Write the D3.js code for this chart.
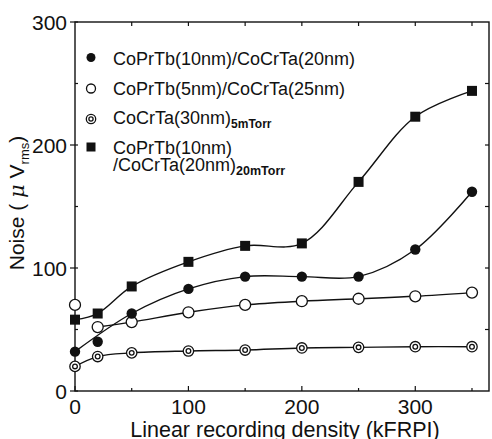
<!DOCTYPE html>
<html>
<head>
<meta charset="utf-8">
<script src="https://cdn.jsdelivr.net/npm/d3@7"></script>
<style>
  body { margin: 0; background: #fff; }
  text { font-family: "Liberation Sans", Arial, sans-serif; fill: #111; }
</style>
</head>
<body>
<div id="chart"></div>
<script>
// data
var density = [0, 20, 50, 100, 150, 200, 250, 300, 350];
var noiseThick = [32, 40, 63, 83, 93, 93, 93, 115, 162];      // CoPrTb(10nm)/CoCrTa(20nm)
var noiseThin = [70, 52, 56, 64, 70, 73, 75, 77, 80];         // CoPrTb(5nm)/CoCrTa(25nm)
var noiseSingle = [20, 28, 31, 32.5, 33.3, 35, 35.5, 36, 36]; // CoCrTa(30nm) 5mTorr
var noiseHigh = [58, 63, 85, 105, 118, 120, 170, 223, 244];   // CoPrTb/CoCrTa 20mTorr
// points the fitted curve does not go through
var offCurveThick = [20];
var offCurveThin = [0];

var xMajor = [0, 100, 200, 300];
var xMinor = [50, 150, 250, 350];
var yMajor = [0, 100, 200, 300];
var yMinor = [50, 150, 250];

var width = 492, height = 439;
var pLeft = 75, pRight = 489, pTop = 22, pBottom = 391;

var svg = d3.select("#chart").append("svg")
  .attr("width", width)
  .attr("height", height);

var x = d3.scaleLinear().domain([0, 365]).range([pLeft, pRight]);
var y = d3.scaleLinear().domain([0, 300]).range([pBottom, pTop]);

// frame
svg.append("rect")
  .attr("x", pLeft).attr("y", pTop)
  .attr("width", pRight - pLeft).attr("height", pBottom - pTop)
  .attr("fill", "none").attr("stroke", "#111").attr("stroke-width", 1.4);

// ticks
var tickG = svg.append("g").attr("stroke", "#111").attr("stroke-width", 1.2);
xMajor.concat(xMinor).forEach(function(v) {
  var len = xMajor.indexOf(v) >= 0 ? 5 : 3;
  tickG.append("line").attr("x1", x(v)).attr("x2", x(v)).attr("y1", pBottom).attr("y2", pBottom - len);
  if (v > 0) tickG.append("line").attr("x1", x(v)).attr("x2", x(v)).attr("y1", pTop).attr("y2", pTop + 4);
});
yMajor.concat(yMinor).forEach(function(v) {
  var major = yMajor.indexOf(v) >= 0;
  if (major) tickG.append("line").attr("x1", pLeft - 5).attr("x2", pLeft + 3).attr("y1", y(v)).attr("y2", y(v));
  else tickG.append("line").attr("x1", pLeft).attr("x2", pLeft + 3).attr("y1", y(v)).attr("y2", y(v));
  if (v > 0 && v < 300) tickG.append("line").attr("x1", pRight).attr("x2", pRight - 4).attr("y1", y(v)).attr("y2", y(v));
});

// tick labels
svg.selectAll(".xl").data(xMajor).enter().append("text")
  .attr("x", function(d) { return x(d); })
  .attr("y", 414)
  .attr("text-anchor", "middle")
  .style("font-size", "21px")
  .text(function(d) { return d; });

svg.selectAll(".yl").data(yMajor).enter().append("text")
  .attr("x", 67)
  .attr("y", function(d) { return y(d); })
  .attr("dy", "0.36em")
  .attr("text-anchor", "end")
  .style("font-size", "21px")
  .text(function(d) { return d; });

// axis titles
svg.append("text")
  .attr("x", 285).attr("y", 437)
  .attr("text-anchor", "middle")
  .style("font-size", "21.5px")
  .text("Linear recording density (kFRPI)");

var yt = svg.append("text")
  .attr("transform", "translate(24,203)rotate(-90)")
  .attr("text-anchor", "middle")
  .style("font-size", "21px");
yt.append("tspan").text("Noise ( ");
yt.append("tspan").style("font-family", "'DejaVu Serif', serif").style("font-style", "italic").text("\u03bc");
yt.append("tspan").text(" V");
yt.append("tspan").attr("dy", 5).style("font-size", "13px").text("rms");
yt.append("tspan").attr("dy", -5).text(")");

// curves
var line = d3.line()
  .x(function(d) { return x(d[0]); })
  .y(function(d) { return y(d[1]); })
  .curve(d3.curveCatmullRom.alpha(0.5));

function pts(vals, skip) {
  return density.map(function(d, i) { return [d, vals[i]]; })
    .filter(function(p) { return !skip || skip.indexOf(p[0]) < 0; });
}

[[noiseThick, offCurveThick], [noiseThin, offCurveThin], [noiseSingle, null], [noiseHigh, null]]
  .forEach(function(s) {
    svg.append("path")
      .attr("d", line(pts(s[0], s[1])))
      .attr("fill", "none")
      .attr("stroke", "#111")
      .attr("stroke-width", 1.4);
  });

// markers
function filledCircle(g, cx, cy, r) {
  g.append("circle").attr("cx", cx).attr("cy", cy).attr("r", r).attr("fill", "#111");
}
function openCircle(g, cx, cy, r) {
  g.append("circle").attr("cx", cx).attr("cy", cy).attr("r", r)
    .attr("fill", "#fff").attr("stroke", "#111").attr("stroke-width", 1.3);
}
function doubleCircle(g, cx, cy, r) {
  openCircle(g, cx, cy, r);
  g.append("circle").attr("cx", cx).attr("cy", cy).attr("r", r * 0.45)
    .attr("fill", "#fff").attr("stroke", "#111").attr("stroke-width", 1.3);
}
function square(g, cx, cy, s) {
  g.append("rect").attr("x", cx - s / 2).attr("y", cy - s / 2)
    .attr("width", s).attr("height", s).attr("fill", "#111");
}

var marks = svg.append("g");
density.forEach(function(d, i) {
  doubleCircle(marks, x(d), y(noiseSingle[i]), 5.2);
  openCircle(marks, x(d), y(noiseThin[i]), 5.5);
  filledCircle(marks, x(d), y(noiseThick[i]), 5.2);
  square(marks, x(d), y(noiseHigh[i]), 10);
});

// legend
var lg = svg.append("g");
var lx = 91, tx = 113;
filledCircle(lg, lx, 57.5, 4.5);
openCircle(lg, lx, 88.5, 4.5);
doubleCircle(lg, lx, 119, 4.7);
square(lg, lx, 147, 9);

lg.append("text").attr("x", tx).attr("y", 65).style("font-size", "18px")
  .text("CoPrTb(10nm)/CoCrTa(20nm)");
lg.append("text").attr("x", tx).attr("y", 95).style("font-size", "18px")
  .text("CoPrTb(5nm)/CoCrTa(25nm)");
var t3 = lg.append("text").attr("x", tx).attr("y", 124).style("font-size", "18px");
t3.append("tspan").text("CoCrTa(30nm)");
t3.append("tspan").attr("dy", 4).style("font-size", "12px").style("font-weight", "bold").text("5mTorr");
lg.append("text").attr("x", tx).attr("y", 154).style("font-size", "18px")
  .text("CoPrTb(10nm)");
var t4 = lg.append("text").attr("x", tx).attr("y", 171).style("font-size", "18px");
t4.append("tspan").text("/CoCrTa(20nm)");
t4.append("tspan").attr("dy", 4).style("font-size", "12.5px").style("font-weight", "bold").text("20mTorr");
</script>
</body>
</html>
